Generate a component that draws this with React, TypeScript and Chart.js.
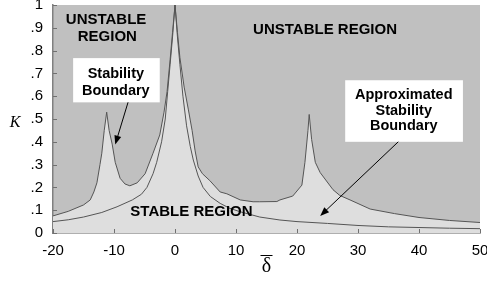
import React, { useEffect, useRef } from "react";
import { Chart, registerables } from "chart.js";

Chart.register(...registerables);

// Stability boundary (upper curve, filled)
const stabX = [-20, -17.5, -15, -13.9, -13.3, -12.8, -12.3, -12, -11.6, -11.2, -10.8, -10.3, -9.8, -9, -8.2, -7.4, -6.2, -4.9, -3.6, -2.5, -1.8, -1.3, -0.8, -0.4, 0, 0.4, 0.8, 1.5, 2.2, 2.8, 3.3, 3.8, 4.5, 5.7, 7.4, 8.5, 10.7, 12.8, 13.9, 16.7, 17.2, 19.3, 20.8, 21.3, 21.8, 22, 22.4, 23, 23.8, 25.9, 27, 28.7, 32, 36, 40, 45, 50];
const stabK = [0.075, 0.095, 0.123, 0.145, 0.18, 0.22, 0.3, 0.35, 0.45, 0.53, 0.45, 0.39, 0.31, 0.24, 0.215, 0.207, 0.22, 0.26, 0.35, 0.43, 0.53, 0.62, 0.76, 0.88, 1.0, 0.88, 0.77, 0.64, 0.54, 0.45, 0.36, 0.29, 0.26, 0.23, 0.18, 0.172, 0.145, 0.137, 0.137, 0.138, 0.145, 0.162, 0.21, 0.31, 0.45, 0.52, 0.41, 0.31, 0.265, 0.19, 0.165, 0.145, 0.105, 0.085, 0.068, 0.055, 0.046];

// Approximated stability boundary (thin line)
const approxX = [-20, -17.5, -15, -12, -9.5, -7, -5.5, -4.6, -3.6, -3, -2.2, -1.6, -1.2, -0.8, -0.4, 0, 0.4, 0.8, 1.3, 1.9, 2.5, 3, 3.8, 4.6, 5.8, 7.4, 9, 10.7, 13.9, 17.2, 20, 25, 30, 35, 40, 45, 50];
const approxK = [0.05, 0.058, 0.07, 0.09, 0.115, 0.145, 0.17, 0.2, 0.26, 0.31, 0.4, 0.5, 0.62, 0.74, 0.86, 1.0, 0.86, 0.74, 0.6, 0.47, 0.38, 0.32, 0.25, 0.2, 0.16, 0.13, 0.108, 0.093, 0.07, 0.057, 0.05, 0.042, 0.033, 0.027, 0.024, 0.021, 0.019];

const xTicks = [-20, -10, 0, 10, 20, 30, 40, 50];
const xTickLabels = ["-20", "-10", "0", "10", "20", "30", "40", "50"];
const yTicks = [0, 0.1, 0.2, 0.3, 0.4, 0.5, 0.6, 0.7, 0.8, 0.9, 1];
const yTickLabels = ["0", ".1", ".2", ".3", ".4", ".5", ".6", ".7", ".8", ".9", "1"];

const xTitle = "\u03B4";
const yTitle = "K";

// Region labels (data coordinates)
const regionTexts = ["UNSTABLE", "REGION", "UNSTABLE REGION", "STABLE REGION"];
const regionTextX = [-11.3, -11.1, 24.6, 2.7];
const regionTextY = [0.934, 0.86, 0.89, 0.0925];

// Callout boxes
const boxLines = [["Stability", "Boundary"], ["Approximated", "Stability", "Boundary"]];
const boxX0 = [-16.7, 27.9];
const boxX1 = [-2.5, 47.2];
const boxY0 = [0.767, 0.67];
const boxY1 = [0.573, 0.40];
const boxTextX = [-9.7, 37.5];
const boxTextY = [[0.697, 0.623], [0.604, 0.537, 0.471]];
const arrowFromX = [-7.7, 36.6];
const arrowFromY = [0.573, 0.40];
const arrowToX = [-9.8, 23.8];
const arrowToY = [0.388, 0.075];

const SANS = "'Liberation Sans', Arial, sans-serif";
const SERIF = "'Liberation Serif', 'Times New Roman', 'DejaVu Serif', serif";

const annotPlugin = {
  id: "annot",
  beforeDraw(chart: any) {
    const { ctx, chartArea } = chart;
    ctx.save();
    ctx.fillStyle = "#c0c0c0";
    ctx.fillRect(chartArea.left, chartArea.top, chartArea.right - chartArea.left, chartArea.bottom - chartArea.top);
    ctx.restore();
  },
  afterDraw(chart: any) {
    const { ctx, chartArea } = chart;
    const xs = chart.scales.x;
    const ys = chart.scales.y;
    ctx.save();
    // inner tick marks
    ctx.strokeStyle = "#707070";
    ctx.lineWidth = 1;
    ctx.beginPath();
    xTicks.forEach((v) => {
      const px = Math.round(xs.getPixelForValue(v)) + 0.5;
      ctx.moveTo(px, chartArea.bottom);
      ctx.lineTo(px, chartArea.bottom - 4);
    });
    yTicks.forEach((v) => {
      const py = Math.round(ys.getPixelForValue(v)) + 0.5;
      ctx.moveTo(chartArea.left, py);
      ctx.lineTo(chartArea.left + 4, py);
    });
    ctx.stroke();

    // boxes
    boxLines.forEach((lines, i) => {
      const x0 = xs.getPixelForValue(boxX0[i]);
      const x1 = xs.getPixelForValue(boxX1[i]);
      const y0 = ys.getPixelForValue(boxY0[i]);
      const y1 = ys.getPixelForValue(boxY1[i]);
      ctx.fillStyle = "#ffffff";
      ctx.fillRect(x0, y0, x1 - x0, y1 - y0);
      ctx.fillStyle = "#000000";
      ctx.font = `bold 14.5px ${SANS}`;
      ctx.textAlign = "center";
      ctx.textBaseline = "middle";
      lines.forEach((t, j) => {
        ctx.fillText(t, xs.getPixelForValue(boxTextX[i]), ys.getPixelForValue(boxTextY[i][j]));
      });
    });

    // arrows
    arrowFromX.forEach((_, i) => {
      const ax = xs.getPixelForValue(arrowFromX[i]);
      const ay = ys.getPixelForValue(arrowFromY[i]);
      const bx = xs.getPixelForValue(arrowToX[i]);
      const by = ys.getPixelForValue(arrowToY[i]);
      const ang = Math.atan2(by - ay, bx - ax);
      const hl = 9, hw = 3.5;
      ctx.strokeStyle = "#000";
      ctx.lineWidth = 1;
      ctx.beginPath();
      ctx.moveTo(ax, ay);
      ctx.lineTo(bx - Math.cos(ang) * hl * 0.8, by - Math.sin(ang) * hl * 0.8);
      ctx.stroke();
      ctx.fillStyle = "#000";
      ctx.beginPath();
      ctx.moveTo(bx, by);
      ctx.lineTo(bx - Math.cos(ang) * hl - Math.sin(ang) * hw, by - Math.sin(ang) * hl + Math.cos(ang) * hw);
      ctx.lineTo(bx - Math.cos(ang) * hl + Math.sin(ang) * hw, by - Math.sin(ang) * hl - Math.cos(ang) * hw);
      ctx.closePath();
      ctx.fill();
    });

    // region labels
    ctx.fillStyle = "#000";
    ctx.font = `bold 15px ${SANS}`;
    ctx.textAlign = "center";
    ctx.textBaseline = "middle";
    regionTexts.forEach((t, i) => {
      ctx.fillText(t, xs.getPixelForValue(regionTextX[i]), ys.getPixelForValue(regionTextY[i]));
    });

    // y axis title
    ctx.font = `italic 16px ${SERIF}`;
    ctx.textAlign = "center";
    ctx.textBaseline = "alphabetic";
    ctx.fillText(yTitle, chartArea.left - 38, ys.getPixelForValue(0.5) + 8);

    // overbar of x-axis title
    const cx = (chartArea.left + chartArea.right) / 2;
    ctx.strokeStyle = "#000";
    ctx.lineWidth = 1;
    ctx.beginPath();
    ctx.moveTo(cx - 6, 255.5);
    ctx.lineTo(cx + 6, 255.5);
    ctx.stroke();
    ctx.restore();
  },
};

export default function App() {
  const ref = useRef<HTMLCanvasElement | null>(null);
  useEffect(() => {
    document.body.style.margin = "0";
    const canvas = ref.current;
    if (!canvas) return;
    const chart = new Chart(canvas, {
      type: "line",
      data: {
        datasets: [
          {
            label: "Stability Boundary",
            data: stabX.map((x, i) => ({ x, y: stabK[i] })),
            borderColor: "#555555",
            borderWidth: 1,
            backgroundColor: "#dedede",
            fill: "origin",
            pointRadius: 0,
            tension: 0,
            order: 2,
          },
          {
            label: "Approximated Stability Boundary",
            data: approxX.map((x, i) => ({ x, y: approxK[i] })),
            borderColor: "#555555",
            borderWidth: 1,
            fill: false,
            pointRadius: 0,
            tension: 0,
            order: 1,
          },
        ],
      },
      options: {
        animation: false,
        responsive: false,
        devicePixelRatio: 1,
        layout: { padding: { top: 5, right: 7, left: 0, bottom: 0 } },
        plugins: { legend: { display: false }, tooltip: { enabled: false }, title: { display: false } },
        scales: {
          x: {
            type: "linear",
            min: -20,
            max: 50,
            afterFit: (s: any) => {
              s.height = 51;
              s.paddingLeft = 0;
              s.paddingRight = 0;
            },
            afterBuildTicks: (s: any) => {
              s.ticks = xTicks.map((v) => ({ value: v }));
            },
            ticks: {
              maxRotation: 0,
              autoSkip: false,
              padding: 9,
              color: "#000",
              font: { family: SANS, size: 15 },
              callback: (v: any) => {
                const i = xTicks.indexOf(Number(v));
                return i >= 0 ? xTickLabels[i] : "";
              },
            },
            grid: { display: false, drawTicks: false },
            border: { display: true, color: "#606060", width: 1.5 },
            title: {
              display: true,
              text: xTitle,
              color: "#000",
              font: { family: SERIF, size: 20, lineHeight: 1 },
              padding: { top: 0, bottom: 7 },
            },
          },
          y: {
            type: "linear",
            min: 0,
            max: 1,
            afterFit: (s: any) => {
              s.width = 53;
              s.paddingTop = 0;
              s.paddingBottom = 0;
            },
            afterBuildTicks: (s: any) => {
              s.ticks = yTicks.map((v) => ({ value: v }));
            },
            ticks: {
              autoSkip: false,
              padding: 10,
              color: "#000",
              font: { family: SANS, size: 15 },
              callback: (v: any) => {
                const i = yTicks.findIndex((t) => Math.abs(t - Number(v)) < 1e-6);
                return i >= 0 ? yTickLabels[i] : "";
              },
            },
            grid: { display: false, drawTicks: false },
            border: { display: true, color: "#808080", width: 1.5 },
          },
        },
      },
      plugins: [annotPlugin],
    } as any);
    return () => chart.destroy();
  }, []);
  return (
    <div style={{ position: "fixed", left: 0, top: 0, width: 487, height: 284, background: "#fff" }}>
      <canvas ref={ref} width={487} height={284} style={{ width: 487, height: 284, display: "block" }} />
    </div>
  );
}
